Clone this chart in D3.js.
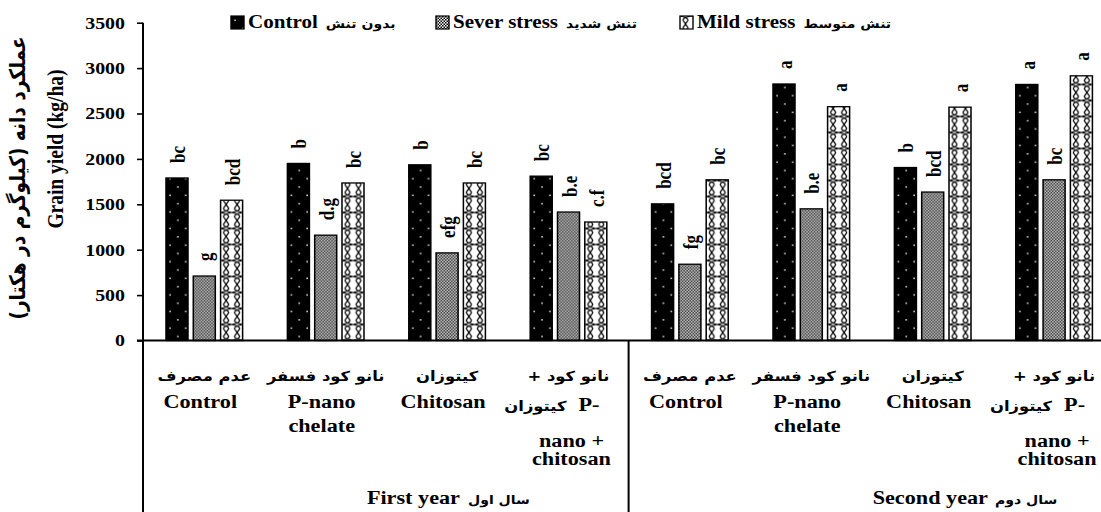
<!DOCTYPE html>
<html><head><meta charset="utf-8">
<script src="https://cdn.jsdelivr.net/npm/d3@7"></script>
<style>
html,body{margin:0;padding:0;background:#fff;overflow:hidden}
.en{font-family:"Liberation Serif","Times New Roman",Tinos,"DejaVu Serif",serif;font-weight:bold}
.fa{font-family:"DejaVu Sans",sans-serif;font-weight:bold}
</style>
</head><body>
<svg id="chart" width="1101" height="512"></svg>
<script>
// ---------- data ----------
const groups = ["Y1-Control","Y1-Pnano","Y1-Chitosan","Y1-Both","Y2-Control","Y2-Pnano","Y2-Chitosan","Y2-Both"];
const treatmentsFa = ["عدم مصرف","نانو کود فسفر","کیتوزان","نانو کود +","عدم مصرف","نانو کود فسفر","کیتوزان","نانو کود +"];
const treatmentsEn = [["Control"],["P-nano","chelate"],["Chitosan"],["nano +","chitosan"],["Control"],["P-nano","chelate"],["Chitosan"],["nano +","chitosan"]];
const years = ["First year","Second year"];
const yearsFa = ["سال اول","سال دوم"];
const series = ["Control","Sever stress","Mild stress"];
const seriesFa = ["بدون تنش","تنش شدید","تنش متوسط"];
const controlValues = [1790,1950,1935,1810,1505,2825,1905,2820];
const severValues   = [710,1160,965,1415,840,1450,1635,1770];
const mildValues    = [1545,1735,1735,1305,1770,2575,2570,2915];
const controlLetters = ["bc","b","b","bc","bcd","a","b","a"];
const severLetters   = ["g","d.g","efg","b.e","fg","b.e","bcd","bc"];
const mildLetters    = ["bcd","bc","bc","c.f","bc","a","a","a"];
const yTicks = [0,500,1000,1500,2000,2500,3000,3500];
const yTitleEn = "Grain yield (kg/ha)";
const yTitleFa = "عملکرد دانه (کیلوگرم در هکتار)";

// ---------- layout ----------
const S = 1.17;               // horizontal stretch of the original picture
const X = v => v / S;

const svg = d3.select("#chart");
const defs = svg.append("defs");
const g = svg.append("g").attr("transform", `scale(${S},1)`);

const x0 = d3.scaleBand().domain(groups).range([X(143), X(143 + 121.4 * 8)]);
const x1 = d3.scaleBand().domain(series).range([X(20.35), X(102.25)]).paddingInner(0.194).paddingOuter(0.097);
const y = d3.scaleLinear().domain([0, 3500]).range([340.5, 22.7]);

const valuesBySeries = [controlValues, severValues, mildValues];
const lettersBySeries = [controlLetters, severLetters, mildLetters];
const bars = [];
groups.forEach((gr, i) => series.forEach((s, j) => bars.push({
  gr, s, j, i, v: valuesBySeries[j][i], l: lettersBySeries[j][i]
})));

// ---------- patterns ----------
function makePattern(id, j, ox, oy) {
  if (j === 0) {
    const p = defs.append("pattern").attr("id", id).attr("patternUnits", "userSpaceOnUse")
      .attr("x", ox).attr("y", oy).attr("width", X(15.7)).attr("height", 16.6);
    p.append("rect").attr("width", X(15.7)).attr("height", 16.6).attr("fill", "#000");
    p.append("rect").attr("x", X(3.3)).attr("y", 3.5).attr("width", X(1.5)).attr("height", 1.5).attr("fill", "#e8e8e8");
    p.append("rect").attr("x", X(11.1)).attr("y", 11.8).attr("width", X(1.5)).attr("height", 1.5).attr("fill", "#e8e8e8");
  } else if (j === 1) {
    const p = defs.append("pattern").attr("id", id).attr("patternUnits", "userSpaceOnUse")
      .attr("x", ox).attr("y", oy).attr("width", X(3)).attr("height", 3);
    p.append("rect").attr("width", X(3)).attr("height", 3).attr("fill", "#fff");
    p.append("rect").attr("width", X(1.5)).attr("height", 1.5).attr("fill", "#000");
    p.append("rect").attr("x", X(1.5)).attr("y", 1.5).attr("width", X(1.5)).attr("height", 1.5).attr("fill", "#000");
  } else {
    const w = X(11), h = 16;
    const p = defs.append("pattern").attr("id", id).attr("patternUnits", "userSpaceOnUse")
      .attr("x", ox).attr("y", oy).attr("width", w).attr("height", h);
    p.append("rect").attr("width", w).attr("height", h).attr("fill", "#fff");
    p.append("path").attr("d", `M0,0 Q${w*0.85},${h*0.12} ${w*0.7},${h*0.3} L${w*0.3},${h*0.7} Q${w*0.15},${h*0.88} ${w},${h}`)
      .attr("fill", "none").attr("stroke", "#000").attr("stroke-width", 1.1);
    p.append("path").attr("d", `M${w},0 Q${w*0.15},${h*0.12} ${w*0.3},${h*0.3} L${w*0.7},${h*0.7} Q${w*0.85},${h*0.88} 0,${h}`)
      .attr("fill", "none").attr("stroke", "#000").attr("stroke-width", 1.1);
  }
}

// ---------- bars ----------
bars.forEach((d, k) => {
  d.x = x0(d.gr) + x1(d.s);
  d.id = "pat" + k;
  makePattern(d.id, d.j, d.x, y(0));
});

g.append("g").selectAll("rect").data(bars).join("rect")
  .attr("x", d => d.x)
  .attr("y", d => y(d.v))
  .attr("width", x1.bandwidth())
  .attr("height", d => y(0) - y(d.v))
  .attr("fill", d => `url(#${d.id})`)
  .attr("stroke", "#000").attr("stroke-width", 1.3);

// significance letters
g.append("g").selectAll("text").data(bars).join("text")
  .attr("class", "en")
  .attr("transform", d => `translate(${d.x + x1.bandwidth() / 2 + X(8)},${y(d.v) - 15}) rotate(-90)`)
  .style("font-size", "17px")
  .attr("fill", "#000")
  .text(d => d.l);

// ---------- axes ----------
const yAxis = d3.axisLeft(y).tickValues(yTicks).tickSize(X(6)).tickPadding(X(12)).tickFormat(d3.format("d"));
const ya = g.append("g").attr("transform", `translate(${X(143)},0)`).call(yAxis);
ya.attr("font-family", null).attr("font-size", null);
ya.select(".domain").remove();
ya.selectAll(".tick line").attr("stroke", "#000").attr("stroke-width", 1.6);
ya.selectAll(".tick text").attr("class", "en").style("font-size", "17px").attr("fill", "#000");

// y axis line (continues down as the category frame)
g.append("line").attr("x1", X(143)).attr("x2", X(143)).attr("y1", y(3500)).attr("y2", 512)
  .attr("stroke", "#000").attr("stroke-width", X(2));
// x axis line
g.append("line").attr("x1", X(137)).attr("x2", X(1101)).attr("y1", y(0)).attr("y2", y(0))
  .attr("stroke", "#000").attr("stroke-width", 2);
// year separator
g.append("line").attr("x1", x0(groups[4])).attr("x2", x0(groups[4])).attr("y1", y(0)).attr("y2", 512)
  .attr("stroke", "#000").attr("stroke-width", X(2));

// ---------- category labels ----------
const centre = gr => x0(gr) + (x1(series[0]) + x1(series[2]) + x1.bandwidth()) / 2;
const cat = g.append("g").attr("fill", "#000");
groups.forEach((gr, i) => {
  const cx = centre(gr);
  cat.append("text").attr("class", "fa").attr("x", cx).attr("y", 381).attr("text-anchor", "middle")
    .attr("direction", "rtl").style("font-size", "14px")
    .text(treatmentsFa[i]);
  const en = treatmentsEn[i];
  if (en[0] === "nano +") {
    cat.append("text").attr("class", "fa").attr("x", cx - X(2)).attr("y", 411).attr("text-anchor", "end")
      .style("font-size", "14px").text("کیتوزان");
    cat.append("text").attr("class", "en").attr("x", cx + X(10)).attr("y", 411).attr("text-anchor", "start")
      .style("font-size", "19px").text("P-");
    cat.append("text").attr("class", "en").attr("x", cx + X(3)).attr("y", 447).attr("text-anchor", "middle")
      .style("font-size", "19px").text(en[0]);
    cat.append("text").attr("class", "en").attr("x", cx + X(3)).attr("y", 465).attr("text-anchor", "middle")
      .style("font-size", "19px").text(en[1]);
  } else {
    en.forEach((t, k) => cat.append("text").attr("class", "en").attr("x", cx - X(4)).attr("y", 408 + k * 24)
      .attr("text-anchor", "middle").style("font-size", "19px").text(t));
  }
});

// year labels
const yearAnchors = [[460, 468], [988, 995]];
years.forEach((yr, i) => {
  cat.append("text").attr("class", "en").attr("x", X(yearAnchors[i][0])).attr("y", 504).attr("text-anchor", "end")
    .style("font-size", "19px").text(yr);
  cat.append("text").attr("class", "fa").attr("x", X(yearAnchors[i][1])).attr("y", 504).attr("text-anchor", "start")
    .style("font-size", "12px").text(yearsFa[i]);
});

// ---------- y titles ----------
g.append("text").attr("class", "en").attr("transform", `translate(${X(63)},149) rotate(-90)`).attr("text-anchor", "middle")
  .style("font-size", "19.5px").attr("fill", "#000").text(yTitleEn);
g.append("text").attr("class", "fa").attr("transform", `translate(${X(25)},178) rotate(-90)`).attr("text-anchor", "middle")
  .attr("direction", "rtl").style("font-size", "18.5px").attr("fill", "#000").text(yTitleFa);

// ---------- legend ----------
const legendX = [231, 436, 680];
const leg = g.append("g");
series.forEach((s, j) => {
  const lx = X(legendX[j]);
  makePattern("leg" + j, j, lx, 16);
  leg.append("rect").attr("x", lx).attr("y", 16).attr("width", X(13)).attr("height", 13)
    .attr("fill", `url(#leg${j})`).attr("stroke", "#000").attr("stroke-width", 1.2);
  const t = leg.append("text").attr("x", lx + X(17)).attr("y", 28).attr("fill", "#000");
  t.append("tspan").attr("class", "en").style("font-size", "18px").text(s);
  t.append("tspan").attr("class", "fa").attr("dx", X(8)).style("font-size", "12px").text(seriesFa[j]);
});
</script>
</body></html>
